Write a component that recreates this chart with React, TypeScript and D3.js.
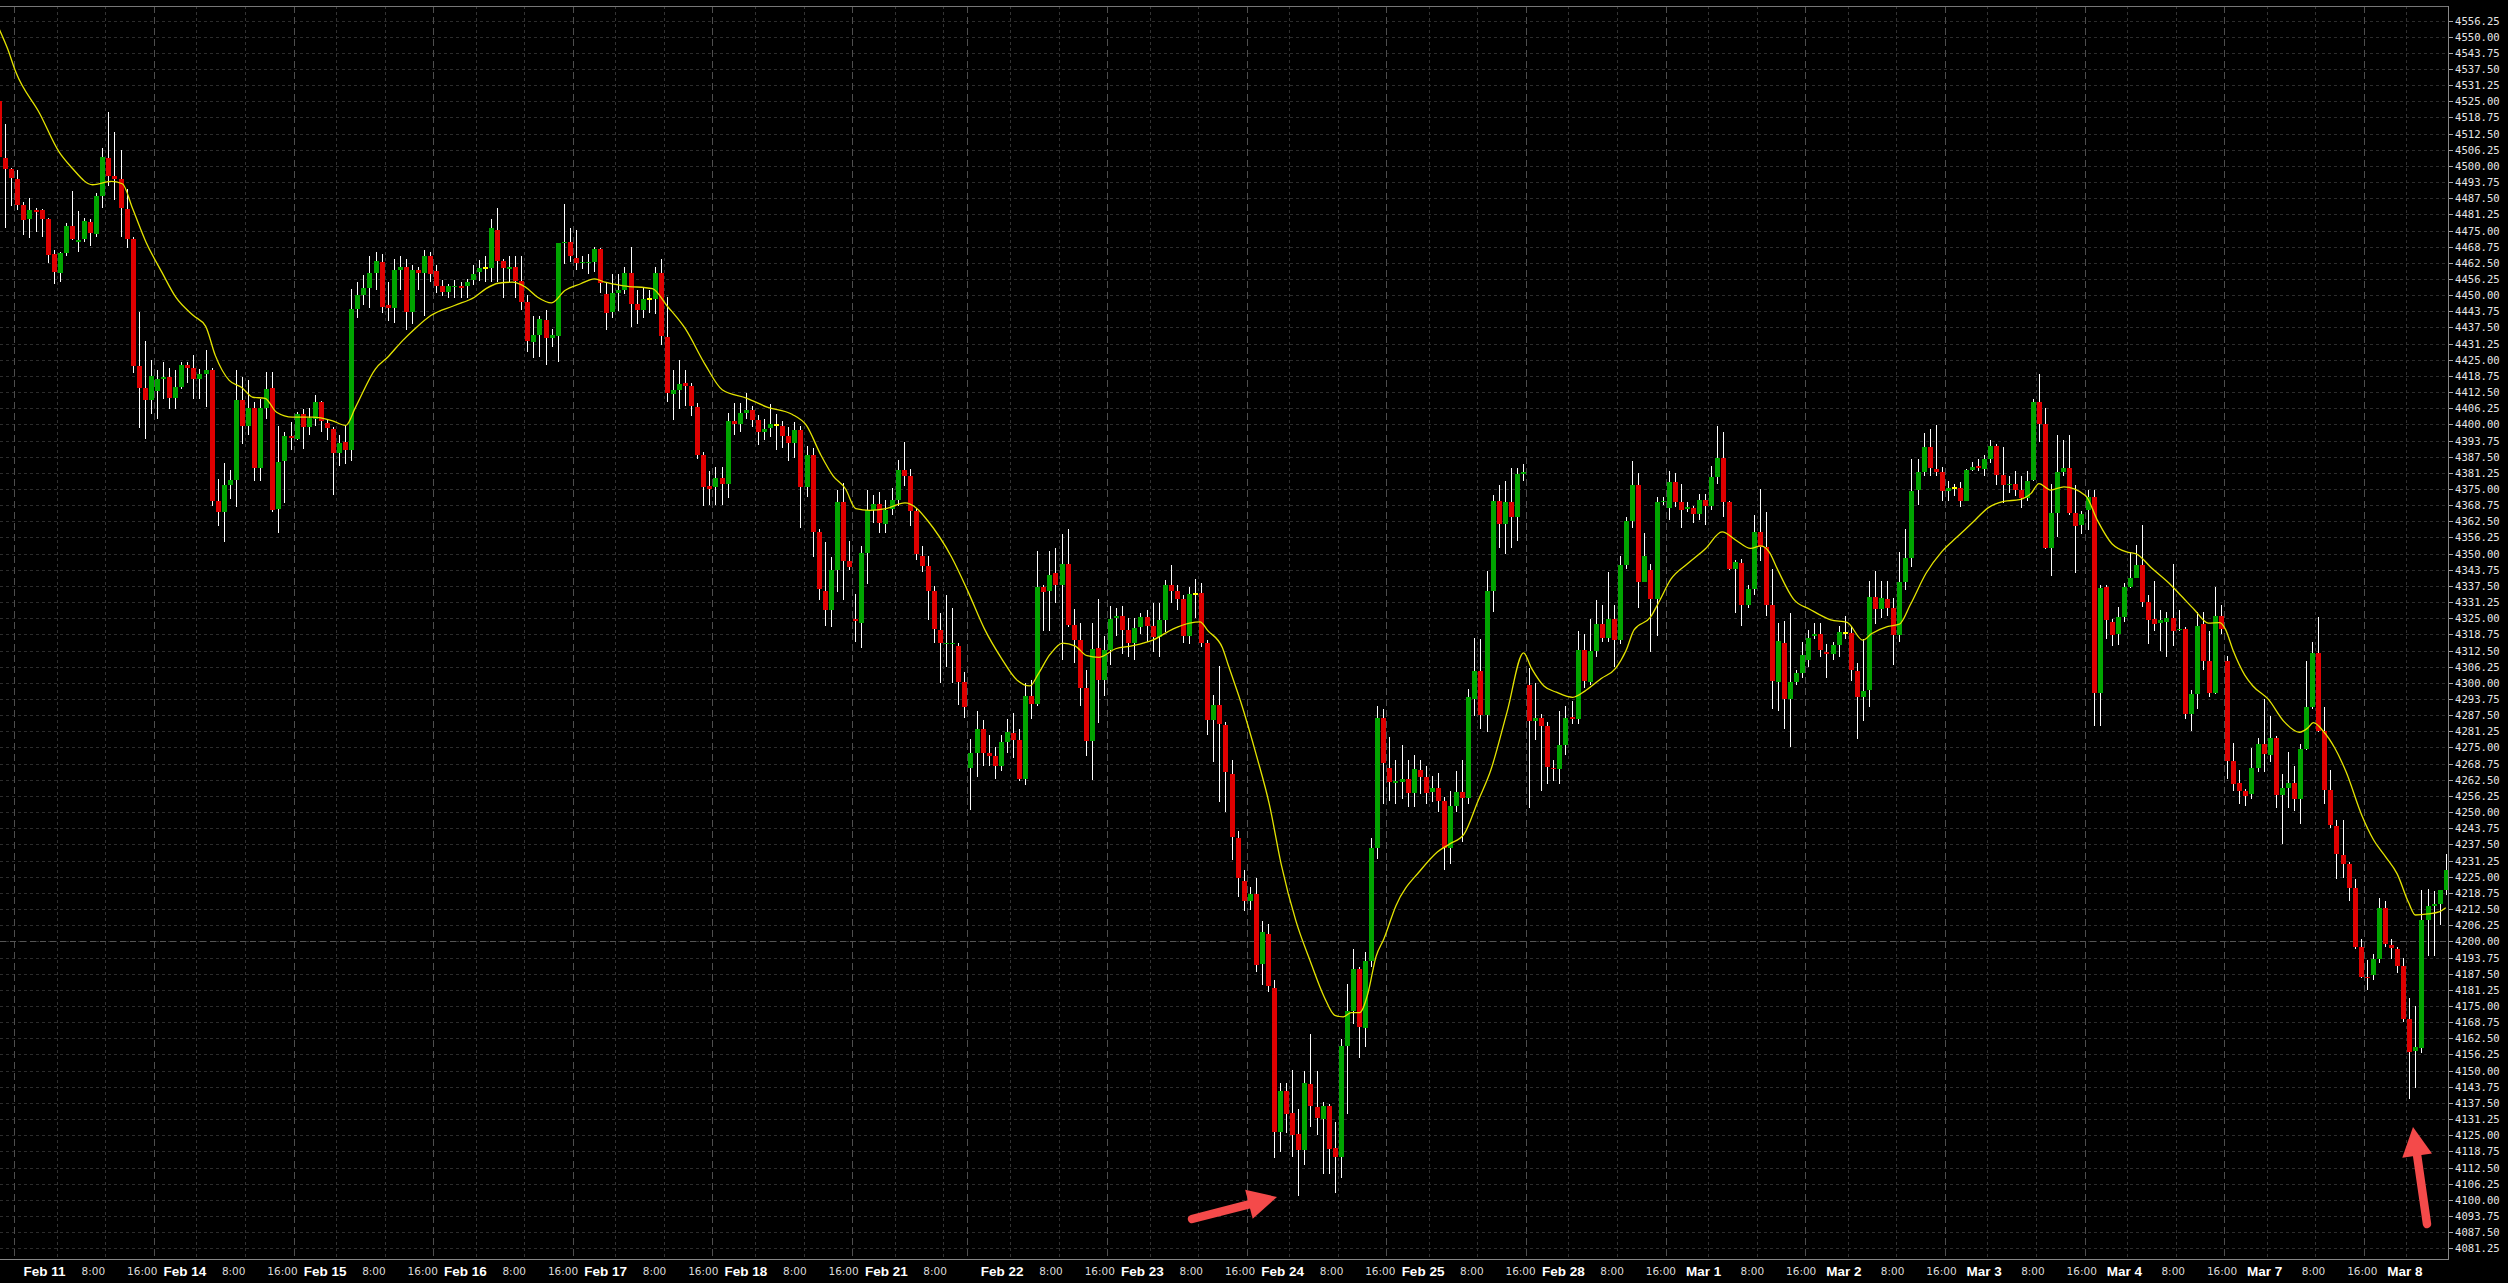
import React from "react";
import * as d3 from "d3";

const WIDTH = 2508;
const HEIGHT = 1283;
const PLOT_RIGHT = 2448;
const PLOT_TOP = 6;
const PLOT_BOTTOM = 1259;

// ES hourly OHLC, Feb 10 (last 3 bars) .. Mar 8
const opens = [
  4525.2, 4503.1, 4498.7, 4494.9, 4484.9, 4479.5, 4482.9, 4482.9, 4479.5, 4465.9,
  4458.7, 4466.4, 4476.8, 4470.7, 4471.7, 4478.4, 4473.7, 4488.5, 4502.9, 4496.1,
  4494.9, 4483.2, 4471.6, 4422.4, 4414.2, 4409.3, 4412.9, 4417.6, 4418.3, 4410.2,
  4414.5, 4422.9, 4421.7, 4417.5, 4419.3, 4420.9, 4370.3, 4366.0, 4376.4, 4378.6,
  4409.6, 4399.2, 4406.5, 4383.3, 4406.5, 4414.0, 4367.1, 4385.8, 4395.6, 4394.2,
  4404.1, 4399.0, 4402.2, 4408.6, 4400.5, 4398.3, 4388.9, 4393.1, 4390.0, 4444.7,
  4450.1, 4452.8, 4458.6, 4463.0, 4446.0, 4445.1, 4459.9, 4460.7, 4443.5, 4459.9,
  4458.6, 4465.1, 4459.3, 4453.5, 4451.4, 4453.0, 4453.5, 4453.5, 4455.8, 4458.8,
  4460.4, 4460.4, 4475.2, 4463.4, 4460.0, 4461.0, 4455.4, 4447.3, 4431.9, 4434.7,
  4440.2, 4433.3, 4434.3, 4470.1, 4470.6, 4464.5, 4462.5, 4462.5, 4462.8, 4467.7,
  4450.6, 4443.3, 4451.0, 4452.1, 4458.7, 4446.4, 4444.1, 4448.6, 4448.6, 4458.7,
  4433.7, 4411.8, 4413.4, 4416.0, 4414.9, 4406.7, 4388.0, 4376.2, 4375.8, 4379.1,
  4376.9, 4401.2, 4400.1, 4404.5, 4405.4, 4401.6, 4397.2, 4398.7, 4399.9, 4399.4,
  4395.5, 4392.8, 4397.7, 4375.8, 4388.0, 4358.5, 4335.7, 4328.2, 4343.7, 4370.0,
  4347.0, 4324.9, 4323.1, 4350.3, 4366.9, 4369.1, 4361.3, 4367.4, 4370.7, 4382.4,
  4380.0, 4366.3, 4349.2, 4345.2, 4335.7, 4320.4, 4314.9, 4315.0, 4314.3, 4300.3,
  4267.2, 4272.9, 4282.2, 4272.9, 4271.8, 4267.8, 4277.1, 4280.6, 4277.8, 4263.0,
  4295.1, 4291.7, 4336.9, 4335.7, 4342.4, 4337.9, 4346.0, 4322.5, 4316.5, 4298.1,
  4277.4, 4313.6, 4301.0, 4312.7, 4325.0, 4326.0, 4320.3, 4315.4, 4321.6, 4325.3,
  4322.0, 4317.6, 4324.2, 4337.9, 4335.7, 4332.6, 4318.0, 4334.2, 4334.8, 4315.4,
  4285.5, 4291.5, 4283.7, 4264.9, 4239.8, 4223.3, 4215.8, 4218.2, 4191.2, 4203.0,
  4181.8, 4126.3, 4142.1, 4133.5, 4125.5, 4119.3, 4144.8, 4136.0, 4131.3, 4136.3,
  4120.0, 4116.7, 4159.5, 4173.0, 4189.2, 4166.6, 4192.4, 4236.2, 4286.3, 4267.2,
  4261.2, 4261.6, 4262.8, 4257.3, 4266.2, 4263.6, 4257.7, 4259.3, 4254.3, 4236.2,
  4252.4, 4257.7, 4255.3, 4293.8, 4304.7, 4287.5, 4335.6, 4370.4, 4361.3, 4369.8,
  4364.3, 4380.7, 4299.3, 4285.3, 4286.5, 4283.4, 4267.2, 4266.8, 4276.0, 4286.9,
  4285.9, 4312.9, 4300.3, 4312.2, 4322.8, 4317.5, 4324.8, 4316.5, 4345.7, 4362.5,
  4376.7, 4339.2, 4343.7, 4332.3, 4369.8, 4367.8, 4377.7, 4369.8, 4367.4, 4367.8,
  4365.5, 4370.8, 4368.4, 4379.7, 4387.1, 4369.8, 4344.1, 4346.5, 4330.3, 4336.2,
  4358.4, 4352.5, 4330.3, 4300.3, 4315.5, 4293.8, 4300.3, 4303.7, 4309.0, 4318.1,
  4318.9, 4312.0, 4311.2, 4314.5, 4319.1, 4319.3, 4304.5, 4294.6, 4297.4, 4333.4,
  4328.7, 4332.6, 4328.9, 4318.4, 4339.2, 4348.4, 4374.6, 4381.4, 4391.2, 4382.7,
  4381.4, 4374.3, 4375.2, 4375.2, 4370.5, 4382.5, 4384.0, 4382.7, 4386.5, 4391.5,
  4380.5, 4376.5, 4377.1, 4374.6, 4371.5, 4378.4, 4408.6, 4400.2, 4352.1, 4365.8,
  4381.4, 4383.3, 4365.8, 4361.2, 4366.8, 4371.8, 4296.1, 4337.1, 4323.6, 4318.9,
  4325.5, 4337.1, 4340.5, 4345.6, 4331.2, 4324.6, 4323.3, 4323.6, 4325.1, 4320.3,
  4320.8, 4288.0, 4295.5, 4322.7, 4308.3, 4295.9, 4325.9, 4308.6, 4269.6, 4261.4,
  4258.0, 4257.1, 4267.0, 4276.4, 4272.0, 4278.6, 4256.5, 4259.5, 4261.4, 4255.2,
  4274.5, 4290.8, 4311.4, 4281.4, 4258.6, 4244.5, 4233.3, 4229.9, 4220.5, 4198.0,
  4186.4, 4186.8, 4193.3, 4213.0, 4198.6, 4197.1, 4190.5, 4169.9, 4157.7, 4158.6,
  4208.3, 4213.6, 4214.4, 4219.8,
];

const highs = [
  4527.0, 4516.2, 4499.3, 4498.4, 4486.2, 4487.7, 4483.6, 4483.5, 4479.7, 4467.5,
  4466.8, 4477.8, 4490.3, 4482.6, 4479.7, 4479.3, 4489.5, 4506.8, 4520.8, 4513.0,
  4506.2, 4491.0, 4472.5, 4443.4, 4432.3, 4424.9, 4421.2, 4424.1, 4421.8, 4421.2,
  4424.1, 4424.0, 4426.8, 4421.5, 4428.7, 4421.9, 4378.9, 4385.0, 4382.5, 4421.2,
  4418.3, 4417.1, 4408.7, 4410.0, 4420.3, 4420.2, 4399.4, 4397.1, 4400.8, 4404.6,
  4406.1, 4406.5, 4411.2, 4409.0, 4402.0, 4399.0, 4396.0, 4399.7, 4452.5, 4455.0,
  4457.6, 4465.3, 4466.6, 4466.0, 4455.2, 4464.0, 4465.0, 4464.0, 4461.5, 4461.0,
  4467.3, 4466.5, 4461.5, 4456.0, 4454.5, 4456.0, 4455.0, 4456.4, 4461.5, 4463.5,
  4465.0, 4479.5, 4483.6, 4464.0, 4465.0, 4465.0, 4465.2, 4449.9, 4442.1, 4442.1,
  4444.1, 4437.0, 4470.3, 4485.1, 4475.9, 4475.3, 4465.0, 4466.0, 4468.5, 4468.1,
  4454.8, 4458.1, 4458.0, 4460.9, 4468.5, 4452.0, 4453.0, 4452.0, 4460.9, 4464.0,
  4449.2, 4421.1, 4424.9, 4421.0, 4416.0, 4408.3, 4389.5, 4382.0, 4383.6, 4383.6,
  4404.5, 4408.3, 4408.3, 4412.0, 4407.0, 4403.5, 4402.0, 4408.0, 4404.0, 4401.5,
  4399.0, 4400.9, 4399.4, 4391.8, 4391.0, 4359.6, 4354.5, 4348.6, 4374.6, 4377.3,
  4355.0, 4334.2, 4353.0, 4374.6, 4372.5, 4373.8, 4370.6, 4375.5, 4386.2, 4393.3,
  4382.9, 4367.4, 4353.0, 4349.0, 4337.5, 4326.9, 4334.0, 4329.0, 4315.4, 4304.3,
  4278.2, 4289.3, 4285.5, 4280.0, 4275.0, 4280.0, 4286.0, 4288.5, 4282.0, 4299.9,
  4301.2, 4351.2, 4338.0, 4351.0, 4352.0, 4357.4, 4359.6, 4328.7, 4323.1, 4304.8,
  4323.1, 4332.6, 4318.0, 4329.8, 4329.0, 4329.8, 4325.0, 4325.0, 4327.0, 4328.0,
  4331.0, 4331.0, 4339.7, 4345.5, 4338.0, 4334.0, 4337.0, 4340.0, 4338.6, 4316.5,
  4295.4, 4306.5, 4285.0, 4270.0, 4242.8, 4227.7, 4221.0, 4224.7, 4208.0, 4206.9,
  4185.0, 4145.3, 4145.3, 4150.2, 4135.0, 4149.8, 4164.2, 4149.8, 4138.0, 4137.1,
  4130.2, 4162.1, 4183.5, 4196.9, 4190.2, 4196.0, 4240.0, 4290.9, 4289.9, 4279.0,
  4270.0, 4276.0, 4270.0, 4272.0, 4270.0, 4268.0, 4264.0, 4265.0, 4256.0, 4258.0,
  4266.0, 4270.0, 4297.8, 4317.5, 4317.0, 4343.2, 4372.8, 4376.7, 4378.0, 4383.0,
  4383.0, 4384.6, 4305.6, 4300.0, 4288.0, 4285.0, 4270.0, 4289.0, 4291.0, 4293.0,
  4320.0, 4319.0, 4324.8, 4332.0, 4330.0, 4343.0, 4330.0, 4349.0, 4364.0, 4386.0,
  4381.0, 4358.0, 4346.0, 4372.0, 4372.0, 4382.0, 4381.0, 4377.0, 4370.0, 4368.5,
  4373.0, 4373.0, 4384.0, 4399.4, 4397.0, 4370.5, 4347.5, 4348.0, 4338.0, 4365.0,
  4375.0, 4366.0, 4344.0, 4323.0, 4324.0, 4327.0, 4305.0, 4316.0, 4320.5, 4323.0,
  4323.0, 4315.0, 4316.0, 4322.0, 4326.0, 4322.0, 4307.7, 4317.0, 4339.6, 4343.3,
  4339.6, 4339.6, 4333.0, 4350.8, 4359.7, 4386.5, 4386.5, 4396.8, 4398.1, 4399.6,
  4383.6, 4378.0, 4377.0, 4377.6, 4382.7, 4385.5, 4386.5, 4388.3, 4394.0, 4392.6,
  4391.2, 4379.9, 4381.8, 4379.9, 4381.8, 4409.9, 4419.3, 4406.2, 4377.0, 4395.8,
  4394.0, 4395.8, 4376.5, 4366.4, 4374.6, 4374.6, 4337.7, 4337.7, 4324.6, 4329.3,
  4338.6, 4350.8, 4353.3, 4361.2, 4334.0, 4339.6, 4328.3, 4327.4, 4346.1, 4328.3,
  4321.8, 4297.4, 4327.4, 4327.4, 4319.9, 4337.1, 4330.2, 4310.5, 4276.7, 4266.4,
  4259.0, 4274.9, 4278.6, 4293.6, 4287.1, 4279.6, 4264.6, 4273.4, 4267.8, 4276.4,
  4308.6, 4315.8, 4325.5, 4290.8, 4266.4, 4246.8, 4246.8, 4230.8, 4224.3, 4200.8,
  4192.8, 4195.2, 4216.7, 4215.8, 4200.8, 4198.0, 4193.6, 4177.9, 4175.1, 4219.8,
  4220.3, 4219.5, 4219.8, 4233.9,
];

const lows = [
  4500.0, 4476.1, 4484.5, 4482.9, 4473.3, 4472.2, 4474.6, 4472.6, 4462.6, 4454.3,
  4455.2, 4465.2, 4471.3, 4466.7, 4470.7, 4469.1, 4472.6, 4483.8, 4492.2, 4486.8,
  4472.6, 4468.1, 4420.0, 4398.5, 4394.2, 4404.0, 4402.1, 4409.9, 4406.0, 4405.9,
  4413.6, 4416.0, 4409.9, 4409.9, 4406.7, 4368.6, 4360.6, 4354.4, 4371.3, 4368.0,
  4392.3, 4395.8, 4378.1, 4378.0, 4402.0, 4366.0, 4357.8, 4369.5, 4390.0, 4394.0,
  4390.5, 4396.0, 4399.2, 4397.0, 4394.0, 4372.8, 4384.0, 4384.8, 4386.0, 4441.1,
  4446.0, 4444.9, 4452.0, 4443.0, 4440.0, 4439.2, 4452.0, 4436.5, 4439.0, 4452.0,
  4442.0, 4455.0, 4451.0, 4449.5, 4449.0, 4449.0, 4449.0, 4449.0, 4454.0, 4455.5,
  4455.0, 4455.0, 4455.0, 4449.0, 4455.0, 4449.0, 4444.3, 4427.9, 4425.8, 4426.0,
  4423.1, 4430.0, 4424.1, 4462.0, 4463.0, 4459.9, 4460.0, 4458.0, 4459.0, 4451.0,
  4436.4, 4441.1, 4444.0, 4450.3, 4437.5, 4439.0, 4441.0, 4443.0, 4442.6, 4430.9,
  4408.8, 4401.7, 4406.0, 4407.0, 4403.4, 4386.6, 4368.5, 4369.0, 4368.8, 4369.0,
  4371.6, 4396.0, 4397.0, 4402.0, 4399.0, 4392.0, 4394.0, 4395.0, 4390.0, 4391.0,
  4386.0, 4387.0, 4360.1, 4372.0, 4348.6, 4332.0, 4322.0, 4321.6, 4335.3, 4332.0,
  4343.5, 4315.8, 4313.6, 4338.2, 4362.0, 4358.0, 4358.0, 4365.0, 4368.5, 4376.0,
  4360.7, 4347.5, 4343.0, 4324.2, 4315.4, 4299.9, 4306.0, 4300.0, 4291.5, 4286.6,
  4250.8, 4263.4, 4268.0, 4268.0, 4262.7, 4266.0, 4273.0, 4271.0, 4262.0, 4260.5,
  4286.0, 4291.0, 4320.0, 4320.0, 4331.0, 4308.7, 4321.6, 4307.6, 4291.0, 4271.6,
  4262.3, 4284.4, 4295.0, 4307.0, 4318.0, 4311.0, 4310.0, 4309.0, 4319.0, 4316.0,
  4312.0, 4310.0, 4319.8, 4331.0, 4328.0, 4315.5, 4315.0, 4325.0, 4314.0, 4280.0,
  4269.4, 4253.9, 4250.0, 4231.3, 4217.0, 4211.9, 4212.0, 4188.2, 4183.3, 4180.3,
  4116.3, 4118.6, 4125.7, 4116.7, 4101.5, 4113.5, 4128.0, 4125.1, 4110.0, 4110.0,
  4102.5, 4108.3, 4133.2, 4168.0, 4155.0, 4159.2, 4190.0, 4232.0, 4253.3, 4254.3,
  4253.0, 4255.0, 4252.0, 4252.0, 4257.0, 4253.0, 4254.0, 4250.0, 4227.7, 4230.0,
  4250.0, 4238.6, 4253.0, 4287.0, 4282.0, 4281.0, 4327.4, 4352.0, 4350.0, 4352.0,
  4355.0, 4378.0, 4251.4, 4278.0, 4258.0, 4261.0, 4262.0, 4261.0, 4272.0, 4284.0,
  4284.0, 4298.0, 4299.0, 4310.0, 4316.0, 4316.0, 4306.0, 4315.0, 4344.0, 4360.0,
  4329.0, 4339.0, 4312.0, 4318.0, 4369.0, 4363.0, 4368.0, 4360.0, 4366.0, 4362.0,
  4363.0, 4361.0, 4367.0, 4377.0, 4364.0, 4343.7, 4327.0, 4322.0, 4329.0, 4334.0,
  4347.0, 4326.0, 4289.9, 4289.0, 4282.0, 4275.1, 4299.0, 4302.0, 4306.0, 4317.0,
  4310.0, 4302.0, 4309.0, 4310.0, 4317.0, 4300.7, 4278.1, 4285.2, 4290.8, 4322.7,
  4325.0, 4326.0, 4306.8, 4316.0, 4336.0, 4345.0, 4368.7, 4379.9, 4379.9, 4379.9,
  4370.5, 4370.5, 4372.4, 4368.0, 4370.5, 4381.8, 4381.8, 4379.9, 4385.0, 4376.7,
  4369.6, 4373.3, 4372.4, 4367.7, 4370.5, 4378.0, 4393.0, 4351.8, 4341.5, 4356.5,
  4379.9, 4364.9, 4342.4, 4357.4, 4359.3, 4283.3, 4283.3, 4317.1, 4314.3, 4314.7,
  4323.6, 4336.8, 4340.5, 4329.3, 4315.2, 4319.9, 4312.4, 4310.1, 4314.3, 4319.9,
  4286.1, 4281.5, 4289.9, 4304.9, 4294.6, 4295.5, 4319.0, 4262.7, 4258.0, 4253.3,
  4252.4, 4255.2, 4265.5, 4265.5, 4269.3, 4251.4, 4237.8, 4251.4, 4250.5, 4245.3,
  4274.0, 4290.0, 4281.0, 4253.3, 4244.0, 4224.3, 4224.6, 4215.8, 4197.1, 4185.8,
  4181.1, 4184.9, 4191.5, 4198.0, 4193.3, 4187.7, 4168.9, 4138.9, 4143.3, 4156.7,
  4194.4, 4194.4, 4206.5, 4218.1,
];

const closes = [
  4503.6, 4498.7, 4495.4, 4484.9, 4479.1, 4482.9, 4482.2, 4479.5, 4465.5, 4459.1,
  4466.2, 4476.8, 4471.6, 4471.3, 4478.7, 4474.2, 4488.4, 4503.3, 4496.2, 4494.9,
  4483.8, 4471.6, 4422.4, 4414.2, 4409.3, 4418.6, 4417.6, 4418.3, 4410.2, 4414.4,
  4422.9, 4421.7, 4417.5, 4419.3, 4420.9, 4370.3, 4366.0, 4376.4, 4378.6, 4409.6,
  4399.2, 4406.2, 4383.3, 4406.2, 4413.5, 4366.7, 4385.6, 4395.6, 4394.9, 4404.1,
  4399.0, 4402.5, 4408.6, 4401.3, 4398.6, 4388.9, 4392.7, 4390.2, 4444.7, 4450.1,
  4452.8, 4458.6, 4463.4, 4445.6, 4445.1, 4459.9, 4460.7, 4443.5, 4459.9, 4458.6,
  4465.1, 4458.0, 4453.7, 4451.4, 4453.5, 4453.5, 4452.8, 4455.1, 4458.2, 4460.4,
  4460.4, 4475.8, 4463.4, 4460.5, 4461.0, 4455.4, 4447.3, 4432.1, 4434.7, 4440.6,
  4433.3, 4434.5, 4470.1, 4470.6, 4465.3, 4462.5, 4463.0, 4463.0, 4467.7, 4454.6,
  4443.2, 4451.0, 4452.1, 4458.7, 4446.6, 4444.1, 4448.6, 4448.6, 4458.7, 4434.2,
  4412.3, 4413.4, 4415.6, 4414.9, 4407.2, 4388.0, 4375.8, 4375.1, 4379.1, 4376.9,
  4401.2, 4400.1, 4404.5, 4405.4, 4401.6, 4397.2, 4398.3, 4400.1, 4399.9, 4395.5,
  4392.8, 4397.7, 4375.8, 4388.0, 4358.5, 4336.4, 4328.2, 4343.7, 4370.0, 4347.0,
  4345.0, 4323.8, 4350.3, 4366.9, 4369.1, 4361.8, 4366.9, 4370.7, 4382.4, 4380.2,
  4366.3, 4349.7, 4345.2, 4335.7, 4320.9, 4315.4, 4315.6, 4315.6, 4300.3, 4290.6,
  4272.9, 4282.2, 4272.9, 4271.8, 4267.8, 4277.1, 4281.1, 4277.8, 4263.0, 4295.1,
  4291.7, 4336.9, 4335.3, 4341.9, 4337.9, 4346.0, 4322.5, 4316.5, 4298.1, 4277.4,
  4313.2, 4301.0, 4312.7, 4324.7, 4325.8, 4320.3, 4315.4, 4321.4, 4325.3, 4322.0,
  4317.6, 4324.2, 4337.9, 4335.7, 4332.6, 4318.0, 4334.2, 4334.2, 4315.4, 4285.5,
  4291.5, 4284.0, 4265.6, 4240.2, 4224.7, 4215.8, 4218.2, 4190.8, 4203.6, 4182.7,
  4126.3, 4142.1, 4133.2, 4125.1, 4119.3, 4145.2, 4136.3, 4131.5, 4136.3, 4119.6,
  4116.7, 4159.5, 4173.0, 4189.2, 4167.0, 4192.4, 4236.2, 4286.3, 4269.1, 4261.6,
  4262.2, 4262.8, 4257.3, 4266.8, 4263.6, 4257.3, 4259.3, 4254.3, 4236.2, 4252.4,
  4257.7, 4255.3, 4294.4, 4304.7, 4287.5, 4335.6, 4370.4, 4361.3, 4369.8, 4364.3,
  4380.7, 4381.5, 4285.3, 4286.5, 4283.4, 4267.6, 4266.6, 4276.0, 4286.5, 4285.9,
  4312.9, 4300.7, 4312.2, 4322.8, 4317.5, 4324.8, 4316.5, 4345.7, 4362.5, 4376.7,
  4339.2, 4349.1, 4332.3, 4369.8, 4370.4, 4377.7, 4369.8, 4366.9, 4368.2, 4365.5,
  4370.8, 4368.4, 4379.7, 4387.1, 4369.8, 4344.1, 4346.7, 4330.3, 4336.2, 4358.4,
  4352.5, 4330.3, 4300.7, 4316.1, 4293.8, 4300.3, 4303.7, 4310.6, 4317.5, 4318.9,
  4312.6, 4311.2, 4314.5, 4319.5, 4319.1, 4304.9, 4294.6, 4297.0, 4333.4, 4328.7,
  4333.0, 4328.9, 4318.4, 4339.2, 4348.4, 4374.3, 4381.4, 4391.2, 4383.3, 4381.4,
  4374.3, 4375.2, 4375.2, 4370.5, 4382.2, 4383.6, 4383.3, 4386.5, 4391.5, 4380.5,
  4376.7, 4377.1, 4374.6, 4371.5, 4378.0, 4408.6, 4400.2, 4352.1, 4365.8, 4381.4,
  4383.3, 4365.8, 4360.8, 4365.3, 4371.8, 4296.1, 4336.8, 4324.2, 4318.6, 4325.5,
  4337.1, 4340.5, 4345.6, 4331.2, 4324.2, 4322.7, 4324.2, 4325.1, 4319.9, 4320.8,
  4288.0, 4295.5, 4322.1, 4308.3, 4295.9, 4325.9, 4320.8, 4269.6, 4260.8, 4258.0,
  4256.1, 4267.0, 4276.4, 4272.6, 4278.6, 4256.5, 4259.3, 4261.4, 4255.2, 4274.5,
  4290.8, 4311.4, 4281.4, 4258.6, 4244.9, 4233.6, 4229.9, 4220.5, 4198.0, 4186.4,
  4185.8, 4193.3, 4213.0, 4198.9, 4197.4, 4190.5, 4169.9, 4157.1, 4159.0, 4208.3,
  4213.6, 4214.4, 4219.8, 4227.7,
];

// Moving average (yellow line), read at bar positions
const maIndex = [
  0, 1.4, 2.75, 6.7, 9.9, 11.9, 15.4, 18.4, 20.3, 22,
  24.2, 26.8, 29.1, 32, 34, 35.6, 37.9, 39.9, 41.8, 43.8,
  45.7, 48.3, 51.6, 54.8, 57.1, 58.7, 62, 64, 66.5, 68.5,
  71.1, 75, 78.3, 80.2, 82.2, 84.5, 86.7, 88.7, 91, 93.2,
  95.8, 98.1, 99.8, 102.9, 107.6, 110, 113, 116.4, 119.1, 123.2,
  126.5, 130.6, 133, 135.3, 137.4, 139.4, 141.1, 143.4, 146.1, 149.2,
  151.2, 152.9, 156.9, 159.6, 162.3, 165, 167.7, 169.8, 171.1, 173.1,
  175.2, 177.2, 179.2, 181.2, 183.9, 186.6, 190, 193.4, 196.1, 197.8,
  199.1, 201.5, 202.5, 204.5, 207.2, 209.2, 211.2, 213.6, 216, 218.3,
  220, 221.4, 222.7, 224.1, 225.4, 226.8, 228.1, 230.1, 234.2, 236.9,
  238.9, 241.3, 243.6, 245.7, 248.4, 251.1, 252.4, 254.5, 256.5, 259.2,
  261.2, 263.9, 266.3, 268, 269.3, 272, 273.4, 275.4, 278.1, 281.1,
  283.8, 286.2, 288.5, 290.2, 291.6, 292.9, 295.6, 298.3, 301.7, 304.4,
  307, 308.4, 311, 313, 314.8, 317.4, 320, 322.5, 325.1, 327.6,
  330.2, 332.8, 334.7, 336, 337.9, 340.1, 343.7, 345.6, 348.1, 350.7,
  352, 354.6, 357.8, 359.7, 361.6, 363.9, 365.8, 366.7, 368, 369.9,
  371.2, 373.8, 376.3, 378.9, 380.2, 381.2, 382.8, 384.7, 386.6, 389.2,
  391.1, 393.1, 395, 396.9, 398, 400.1, 402, 403,
];
const maValue = [
  4553, 4545.3, 4536.3, 4520.2, 4505.3, 4499.5, 4492.7, 4494.0, 4493.1, 4483.4,
  4470.5, 4458.9, 4449.2, 4442.1, 4438.0, 4426.7, 4417.0, 4414.4, 4410.5, 4410.1,
  4404.7, 4402.8, 4402.8, 4401.5, 4399.6, 4406.6, 4421.5, 4426.0, 4432.5, 4437.0,
  4442.1, 4446.0, 4449.2, 4452.5, 4454.6, 4455.0, 4453.1, 4449.2, 4447.0, 4451.8,
  4454.4, 4456.3, 4455.0, 4453.6, 4452.5, 4445.9, 4437.1, 4422.7, 4413.4, 4410.1,
  4406.7, 4403.9, 4399.5, 4388.4, 4380.0, 4375.1, 4367.4, 4366.7, 4367.4, 4369.6,
  4367.4, 4362.9, 4348.6, 4335.3, 4320.9, 4309.9, 4301.0, 4298.8, 4303.2, 4311.0,
  4315.4, 4314.3, 4310.5, 4309.9, 4313.2, 4314.3, 4316.5, 4320.9, 4323.1, 4323.6,
  4320.2, 4313.6, 4306.6, 4292.8, 4271.1, 4253.3, 4229.6, 4207.9, 4192.1, 4178.3,
  4171.4, 4170.8, 4172.4, 4172.4, 4179.3, 4194.1, 4201.0, 4213.9, 4227.7, 4234.6,
  4237.6, 4241.5, 4254.3, 4266.2, 4288.9, 4311.6, 4305.7, 4298.7, 4296.4, 4294.4,
  4296.8, 4301.7, 4305.7, 4312.6, 4320.5, 4325.4, 4331.3, 4340.2, 4346.1, 4352.0,
  4358.4, 4355.0, 4352.0, 4353.0, 4350.5, 4344.1, 4332.3, 4328.4, 4324.4, 4323.4,
  4316.5, 4319.0, 4321.8, 4322.7, 4330.2, 4342.4, 4350.8, 4356.4, 4362.1, 4367.7,
  4370.2, 4370.9, 4373.3, 4377.1, 4374.6, 4375.8, 4372.4, 4363.0, 4353.6, 4350.5,
  4349.9, 4344.3, 4337.7, 4333.0, 4328.3, 4323.1, 4323.3, 4320.8, 4312.4, 4303.0,
  4298.9, 4293.6, 4285.2, 4280.9, 4282.4, 4284.6, 4281.4, 4274.9, 4265.5, 4248.6,
  4239.3, 4232.7, 4226.1, 4214.9, 4210.2, 4210.6, 4211.5, 4213.0,
];

// Trading sessions (first bar index, bar count, label)
const sessionStart = [3, 26, 49, 72, 95, 118, 141, 160, 183, 206, 229, 252, 275, 298, 321, 344, 367, 390];
const sessionLength = [23, 23, 23, 23, 23, 23, 19, 23, 23, 23, 23, 23, 23, 23, 23, 23, 23, 14];
const sessionLabel = [
  "Feb 11", "Feb 14", "Feb 15", "Feb 16", "Feb 17", "Feb 18", "Feb 21", "Feb 22", "Feb 23",
  "Feb 24", "Feb 25", "Feb 28", "Mar 1", "Mar 2", "Mar 3", "Mar 4", "Mar 7", "Mar 8",
];
const intradayLabels = ["8:00", "16:00"];
const intradayOffsets = [15, 23];

const yTickMin = 4081.25;
const yTickMax = 4556.25;
const yTickStep = 6.25;
const referenceLevel = 4200;

// annotation arrows: [tailX, tailY, tipX, tipY] in pixels
const arrows = [
  [1192, 1219, 1277, 1197],
  [2427, 1224, 2413, 1127],
];

const GREEN = "#00a400";
const RED = "#de0000";

function arrowPath(tx: number, ty: number, px: number, py: number) {
  const dx = px - tx, dy = py - ty;
  const len = Math.hypot(dx, dy);
  const ux = dx / len, uy = dy / len;
  const nx = -uy, ny = ux;
  const headLen = 29, headHalf = 15;
  const bx = px - ux * headLen, by = py - uy * headLen;
  return {
    shaft: { x1: tx, y1: ty, x2: bx + ux * 2, y2: by + uy * 2 },
    head: `M${px},${py}L${bx + nx * headHalf},${by + ny * headHalf}L${bx - nx * headHalf},${by - ny * headHalf}Z`,
  };
}

export default function App() {
  const n = closes.length;
  const x = d3.scaleLinear().domain([0, n - 1]).range([-0.88, -0.88 + 6.071 * (n - 1)]);
  const xLab = d3.scaleLinear().domain([9.5, 396.5]).range([44.6, 2405]);
  const y = d3.scaleLinear().domain([yTickMin, yTickMax]).range([1248.3, 20.5]);
  const tickCount = Math.round((yTickMax - yTickMin) / yTickStep);
  const ticks = d3.range(0, tickCount + 1).map((k) => yTickMin + k * yTickStep);

  const line = d3
    .line<number>()
    .x((_, i) => x(maIndex[i]))
    .y((v) => y(v))
    .curve(d3.curveMonotoneX);

  const majorLines: number[] = [];
  const minorLines: number[] = [];
  const labels: { x: number; text: string; day: boolean }[] = [];
  sessionStart.forEach((s, k) => {
    majorLines.push(x(s - 0.5));
    if (s + 6.5 <= n - 1) minorLines.push(x(s + 6.5));
    if (s + 14.5 <= n - 1 && sessionLength[k] > 15) minorLines.push(x(s + 14.5));
    labels.push({ x: xLab(s + 6.5), text: sessionLabel[k], day: true });
    intradayOffsets.forEach((off, j) => {
      if (off < sessionLength[k] || (off === sessionLength[k] && off === 23)) {
        const pos = s + off - 0.5;
        if (pos <= n - 1) labels.push({ x: xLab(pos), text: intradayLabels[j], day: false });
      }
    });
  });

  const bw = 5;

  return (
    <div style={{ position: "absolute", left: 0, top: 0, width: WIDTH, height: HEIGHT, background: "#000" }}>
      <svg width={WIDTH} height={HEIGHT} style={{ display: "block", background: "#000" }}>
        <defs>
          <clipPath id="plot">
            <rect x={0} y={PLOT_TOP} width={PLOT_RIGHT} height={PLOT_BOTTOM - PLOT_TOP} />
          </clipPath>
        </defs>
        <rect x={0} y={0} width={WIDTH} height={HEIGHT} fill="#000" />

        {/* grid */}
        <g shapeRendering="crispEdges">
          {ticks.map((t) => (
            <line key={"h" + t} x1={0} x2={PLOT_RIGHT} y1={Math.round(y(t)) + 0.5} y2={Math.round(y(t)) + 0.5}
              stroke="#2c2c2c" strokeDasharray="3 3" />
          ))}
          {minorLines.map((v, i) => (
            <line key={"mv" + i} x1={Math.round(v) + 0.5} x2={Math.round(v) + 0.5} y1={PLOT_TOP} y2={PLOT_BOTTOM}
              stroke="#333" strokeDasharray="3 3" />
          ))}
          {majorLines.map((v, i) => (
            <line key={"Mv" + i} x1={Math.round(v) + 0.5} x2={Math.round(v) + 0.5} y1={PLOT_TOP} y2={PLOT_BOTTOM}
              stroke="#4e4e4e" strokeDasharray="7 4" />
          ))}
          <line x1={0} x2={PLOT_RIGHT} y1={Math.round(y(referenceLevel)) + 0.5} y2={Math.round(y(referenceLevel)) + 0.5}
            stroke="#555" strokeDasharray="6 4" />
        </g>

        {/* candles */}
        <g clipPath="url(#plot)" shapeRendering="crispEdges">
          {closes.map((c, i) => {
            const o = opens[i];
            const hi = Math.max(highs[i], o, c);
            const lo = Math.min(lows[i], o, c);
            const cx = x(i);
            const wx = Math.round(cx) + 0.5;
            const top = y(Math.max(o, c));
            const bot = y(Math.min(o, c));
            const doji = o === c;
            return (
              <g key={i}>
                <line x1={wx} x2={wx} y1={y(hi)} y2={y(lo)} stroke="#fff" strokeWidth={1} />
                {doji ? (
                  <rect x={Math.round(cx) - 2} y={Math.round(top) - 1} width={bw} height={2} fill="#ffff00" />
                ) : (
                  <rect x={Math.round(cx) - 2} y={top} width={bw} height={Math.max(1, bot - top)} fill={c > o ? GREEN : RED} />
                )}
              </g>
            );
          })}
        </g>

        {/* moving average */}
        <g clipPath="url(#plot)">
          <path d={line(maValue) || ""} fill="none" stroke="#e4e400" strokeWidth={1.3} />
        </g>

        {/* frame */}
        <g shapeRendering="crispEdges">
          <line x1={0} x2={PLOT_RIGHT} y1={PLOT_TOP + 0.5} y2={PLOT_TOP + 0.5} stroke="#777" />
          <line x1={PLOT_RIGHT + 0.5} x2={PLOT_RIGHT + 0.5} y1={PLOT_TOP} y2={PLOT_BOTTOM} stroke="#888" />
          <line x1={0} x2={PLOT_RIGHT + 1} y1={PLOT_BOTTOM + 0.5} y2={PLOT_BOTTOM + 0.5} stroke="#888" />
          {ticks.map((t) => (
            <line key={"tk" + t} x1={PLOT_RIGHT + 1} x2={PLOT_RIGHT + 5} y1={Math.round(y(t)) + 0.5} y2={Math.round(y(t)) + 0.5}
              stroke="#aaa" />
          ))}
        </g>

        {/* y labels */}
        <g fontFamily="'DejaVu Sans Mono', monospace" fontSize={10.6} fill="#e6e6e6">
          {ticks.map((t) => (
            <text key={"yl" + t} x={2455} y={y(t)} dominantBaseline="central">
              {t.toFixed(2)}
            </text>
          ))}
        </g>

        {/* x labels */}
        <g>
          {labels.map((l, i) => (
            <text key={"xl" + i} x={l.x} y={1271} textAnchor="middle" dominantBaseline="central"
              fontFamily={l.day ? "'Liberation Sans', Arial, sans-serif" : "'DejaVu Sans', sans-serif"}
              fontWeight={l.day ? "bold" : "normal"}
              fontSize={l.day ? 13.5 : 10.5}
              fill={l.day ? "#ffffff" : "#dcdcdc"}>
              {l.text}
            </text>
          ))}
        </g>

        {/* annotation arrows */}
        <g fill="#f44a4a" stroke="#f44a4a">
          {arrows.map((a, i) => {
            const p = arrowPath(a[0], a[1], a[2], a[3]);
            return (
              <g key={"ar" + i}>
                <line x1={p.shaft.x1} y1={p.shaft.y1} x2={p.shaft.x2} y2={p.shaft.y2} strokeWidth={8.5} strokeLinecap="round" />
                <path d={p.head} stroke="none" />
              </g>
            );
          })}
        </g>
      </svg>
    </div>
  );
}
